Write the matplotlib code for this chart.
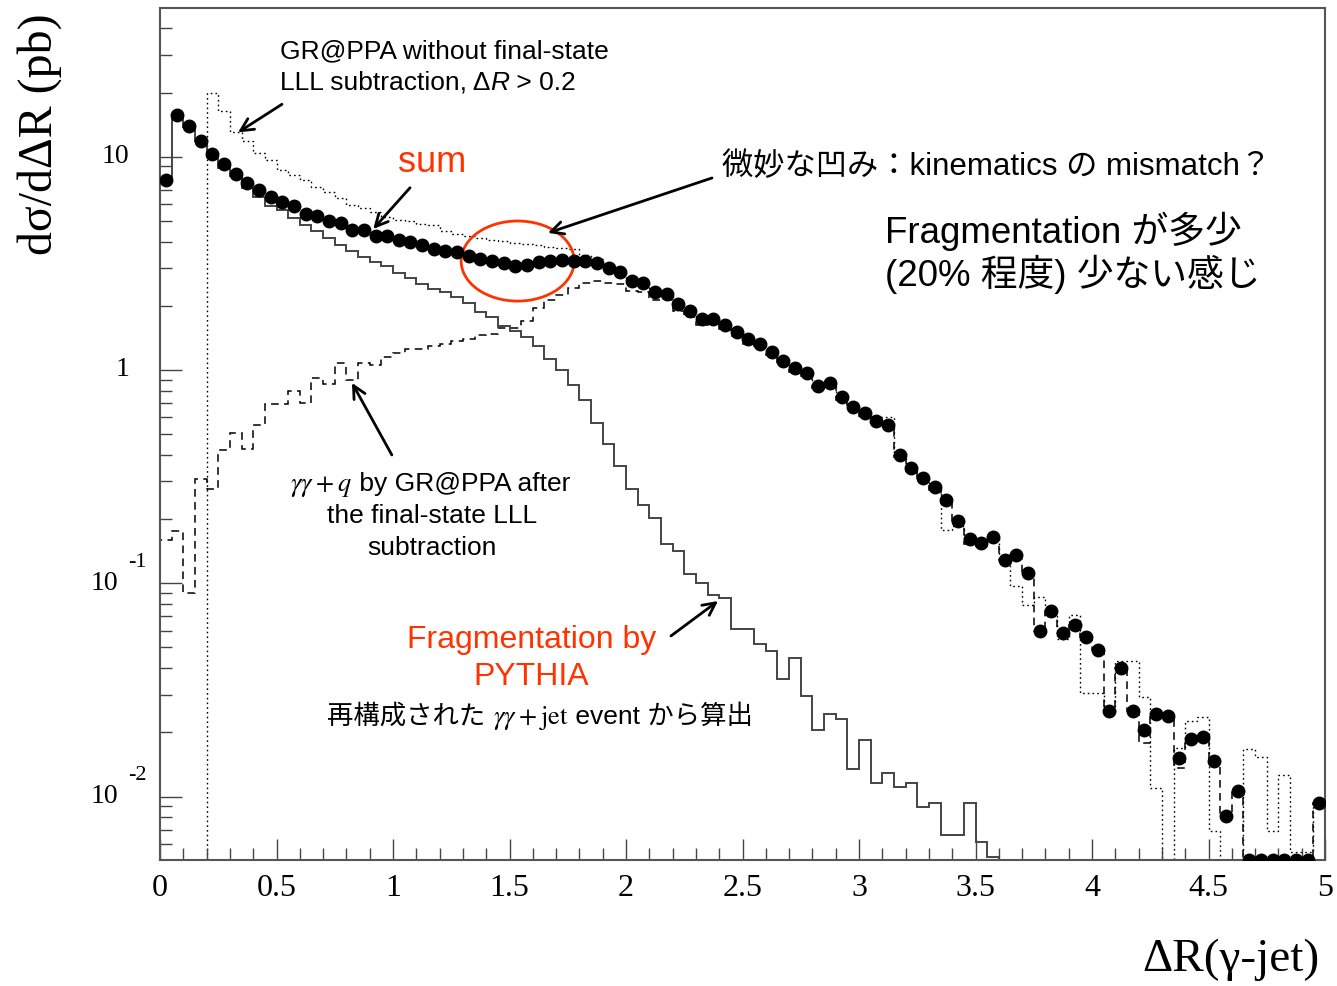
import numpy as np
import matplotlib
matplotlib.use("Agg")
import matplotlib.pyplot as plt
from matplotlib.patches import Ellipse
from matplotlib.ticker import FixedLocator, LogLocator, NullFormatter

plt.rcParams["mathtext.fontset"] = "stix"

SANS = ["Liberation Sans", "Noto Sans CJK JP"]
SERIF = ["Liberation Serif", "DejaVu Serif"]
RED = "#ff3300"

# -*- histogram data, 100 bins of width 0.05 in dR

edges = np.linspace(0.0, 5.0, 101)

# sum (dots)
sum_vals = [
    7.8, 15.7, 14.0, 11.9, 10.3, 9.2, 8.3, 7.5, 7.0, 6.5,
    6.15, 5.9, 5.38, 5.28, 4.99, 4.88, 4.54, 4.54, 4.27, 4.27,
    4.05, 4.0, 3.86, 3.69, 3.63, 3.57, 3.44, 3.32, 3.25, 3.19,
    3.06, 3.09, 3.22, 3.26, 3.28, 3.25, 3.25, 3.17, 3.0, 2.87,
    2.62, 2.55, 2.33, 2.27, 2.03, 1.89, 1.73, 1.73, 1.63, 1.51,
    1.39, 1.32, 1.22, 1.10, 1.02, 0.965, 0.84, 0.867, 0.745, 0.673,
    0.63, 0.577, 0.552, 0.399, 0.348, 0.31, 0.283, 0.245, 0.196, 0.161,
    0.155, 0.165, 0.129, 0.135, 0.112, 0.0595, 0.074, 0.0585, 0.0635, 0.056,
    0.0485, 0.0253, 0.040, 0.0253, 0.0206, 0.0243, 0.0238, 0.0151, 0.0187, 0.0190,
    0.0146, 0.0081, 0.0106, 0, 0, 0, 0, 0, 0, 0.0093,
]

# fragmentation by PYTHIA (solid)
frag_vals = [
    7.6, 15.5, 13.8, 11.8, 10.0, 8.85, 8.1, 7.1, 6.5, 5.9,
    5.63, 5.15, 4.79, 4.46, 4.15, 3.86, 3.63, 3.40, 3.22, 3.06,
    2.86, 2.69, 2.53, 2.40, 2.31, 2.21, 2.05, 1.86, 1.78, 1.60,
    1.52, 1.43, 1.29, 1.13, 1.0, 0.85, 0.72, 0.565, 0.45, 0.354,
    0.278, 0.232, 0.203, 0.152, 0.142, 0.111, 0.100, 0.088, 0.085, 0.0613,
    0.0613, 0.0519, 0.0483, 0.0355, 0.0445, 0.0296, 0.0204, 0.0243, 0.0231, 0.0135,
    0.0185, 0.0116, 0.0129, 0.0111, 0.0116, 0.0089, 0.0093, 0.0066, 0.0066, 0.0093,
    0.0061, 0.0052, 0, 0, 0, 0, 0, 0, 0, 0,
    0, 0, 0, 0, 0, 0, 0, 0, 0, 0,
    0, 0, 0, 0, 0, 0, 0, 0, 0, 0,
]

# gamma gamma + q after LLL subtraction (dashed)
direct_vals = [
    0.16, 0.176, 0.09, 0.308, 0.277, 0.42, 0.505, 0.426, 0.552, 0.69,
    0.69, 0.80, 0.698, 0.914, 0.86, 1.075, 0.898, 1.075, 1.055, 1.15,
    1.2, 1.26, 1.26, 1.29, 1.32, 1.36, 1.40, 1.46, 1.47, 1.57,
    1.57, 1.70, 1.95, 2.13, 2.25, 2.42, 2.56, 2.6, 2.56, 2.52,
    2.34, 2.32, 2.13, 2.12, 1.89, 1.78, 1.63, 1.64, 1.55, 1.45,
    1.33, 1.27, 1.17, 1.06, 0.98, 0.935, 0.82, 0.84, 0.72, 0.66,
    0.61, 0.565, 0.54, 0.39, 0.336, 0.30, 0.274, 0.238, 0.19, 0.152,
    0.149, 0.16, 0.129, 0.135, 0.112, 0.0595, 0.074, 0.0585, 0.0635, 0.056,
    0.0485, 0.0253, 0.040, 0.0253, 0.0178, 0.0243, 0.0238, 0.0136, 0.0187, 0.0190,
    0.0146, 0.0081, 0.0106, 0, 0, 0, 0, 0, 0, 0.0093,
]

# GR@PPA without final-state LLL subtraction, dR > 0.2 (dotted)
nosub_vals = [
    0, 0, 0, 0, 20.0, 16.3, 13.1, 11.8, 10.4, 9.6,
    8.7, 8.2, 7.8, 7.2, 6.85, 6.37, 5.95, 5.74, 5.53, 5.24,
    5.06, 4.97, 4.84, 4.79, 4.46, 4.34, 4.25, 4.14, 4.08, 4.02,
    3.96, 3.9, 3.84, 3.78, 3.73, 3.7, 3.46, 3.3, 3.1, 2.9,
    2.6, 2.5, 2.3, 2.25, 2.0, 1.85, 1.75, 1.7, 1.6, 1.5,
    1.4, 1.3, 1.2, 1.08, 1.0, 0.95, 0.85, 0.86, 0.74, 0.67,
    0.6, 0.6, 0.6, 0.407, 0.35, 0.31, 0.28, 0.177, 0.186, 0.16,
    0.155, 0.165, 0.129, 0.097, 0.079, 0.086, 0.07, 0.055, 0.071, 0.0307,
    0.0307, 0.025, 0.043, 0.043, 0.0294, 0.011, 0, 0.0169, 0.0225, 0.0236,
    0.0069, 0, 0, 0.0167, 0.0154, 0.0069, 0.0126, 0.0055, 0.0055, 0.0093,
]

x_ticks = [0, 0.5, 1, 1.5, 2, 2.5, 3, 3.5, 4, 4.5, 5]
x_ticklabels = ["0", "0.5", "1", "1.5", "2", "2.5", "3", "3.5", "4", "4.5", "5"]
YMIN, YMAX = 0.00504, 49.8

# -*- figure

fig = plt.figure(figsize=(13.37, 9.86), dpi=100)
ax = fig.add_axes([160 / 1337, 126 / 986, 1165 / 1337, 852 / 986])
ax.set_yscale("log")
ax.set_xlim(0, 5)
ax.set_ylim(YMIN, YMAX)

ax.stairs(nosub_vals, edges, color="black", lw=1.0, linestyle=(0, (1.2, 2.2)))
ax.stairs(direct_vals, edges, color="black", lw=1.1, linestyle=(0, (5, 3.5)))
ax.stairs(frag_vals, edges, color="#444444", lw=1.4)

centers = 0.5 * (edges[:-1] + edges[1:])
s = np.array(sum_vals)
ax.plot(centers, np.where(s > 0, s, YMIN), "o", color="black", ms=9, zorder=5)

# -*- axes style

for sp in ax.spines.values():
    sp.set_color("#555555")
    sp.set_linewidth(1.5)

ax.xaxis.set_major_locator(FixedLocator(x_ticks))
ax.xaxis.set_minor_locator(FixedLocator(np.arange(0, 5.01, 0.1)))
ax.set_xticklabels(x_ticklabels, family=SERIF, fontsize=23)
ax.tick_params(axis="x", which="major", direction="in", length=15, width=1, color="#444444", pad=10)
ax.tick_params(axis="x", which="minor", direction="in", length=8.5, width=1, color="#444444")
ax.tick_params(axis="y", which="major", direction="in", length=16, width=1, color="#444444", labelleft=False)
ax.tick_params(axis="y", which="minor", direction="in", length=8.5, width=1, color="#444444")
ax.yaxis.set_minor_locator(LogLocator(base=10, subs=np.arange(2, 10)))
ax.yaxis.set_minor_formatter(NullFormatter())
ax.tick_params(top=False, right=False, which="both")

# y tick labels ROOT style
for val, base, expo in [(10, "10", None), (1, "1", None), (0.1, "10", "-1"), (0.01, "10", "-2")]:
    dx = -22 if expo is None else -30
    ax.annotate(base, xy=(0, val), xycoords=("axes fraction", "data"), xytext=(dx, 0),
                textcoords="offset points", ha="right", va="center", family=SERIF, fontsize=20,
                annotation_clip=False)
    if expo:
        ax.annotate(expo, xy=(0, val), xycoords=("axes fraction", "data"), xytext=(-23, 15),
                    textcoords="offset points", ha="left", va="center", family=SERIF, fontsize=16,
                    annotation_clip=False)

fig.text(40 / 1337, 1 - 13 / 986, "dσ/dΔR (pb)", rotation=90, ha="center", va="top",
         family=SERIF, fontsize=34.5)
fig.text(1320 / 1337, 1 - 960 / 986, "ΔR(γ-jet)", ha="right", va="center",
         family=SERIF, fontsize=34)


# -*- annotations

def chain(parts, x0, y, size, color="black"):
    prev = None
    for txt, fam, style in parts:
        kw = dict(ha="left", va="baseline", family=fam, style=style, fontsize=size, color=color)
        if prev is None:
            prev = ax.text(x0, y, txt, transform=ax.transAxes, **kw)
        else:
            prev = ax.annotate(txt, xy=(1, y), xycoords=(prev, "axes fraction"), **kw)
    return prev


ax.text(0.103, 0.9413, "GR@PPA without final-state", transform=ax.transAxes,
        family=SANS, fontsize=19, va="baseline")
chain([("LLL subtraction, Δ", SANS, "normal"), ("R", SANS, "italic"), (" > 0.2", SANS, "normal")],
      0.103, 0.9038, 19)

ax.text(0.2335, 0.8075, "sum", transform=ax.transAxes, family=SANS, fontsize=26,
        color=RED, ha="center", va="baseline")

ax.text(0.482, 0.804, "微妙な凹み：kinematics の mismatch？", transform=ax.transAxes,
        family=SANS, fontsize=22.5, va="baseline")
ax.text(0.622, 0.7242, "Fragmentation が多少", transform=ax.transAxes,
        family=SANS, fontsize=26.5, va="baseline")
ax.text(0.622, 0.6737, "(20% 程度) 少ない感じ", transform=ax.transAxes,
        family=SANS, fontsize=26.5, va="baseline")

chain([(r"$\gamma\gamma + q$", SANS, "normal"), (" by GR@PPA after", SANS, "normal")],
      0.1116, 0.4331, 19)
ax.text(0.2335, 0.3955, "the final-state LLL", transform=ax.transAxes,
        family=SANS, fontsize=19, ha="center", va="baseline")
ax.text(0.2335, 0.358, "subtraction", transform=ax.transAxes,
        family=SANS, fontsize=19, ha="center", va="baseline")

ax.text(0.319, 0.2488, "Fragmentation by", transform=ax.transAxes,
        family=SANS, fontsize=23, color=RED, ha="center", va="baseline")
ax.text(0.319, 0.2054, "PYTHIA", transform=ax.transAxes,
        family=SANS, fontsize=23, color=RED, ha="center", va="baseline")

chain([("再構成された ", SANS, "normal"), (r"$\gamma\gamma + \mathrm{jet}$", SANS, "normal"),
       (" event から算出", SANS, "normal")], 0.1433, 0.1596, 19)

ax.add_patch(Ellipse((0.307, 0.703), 0.097, 0.094, transform=ax.transAxes,
                     fill=False, edgecolor=RED, lw=2))

arrows = [
    ((0.067, 0.854), (0.1047, 0.887)),
    ((0.183, 0.7406), (0.2146, 0.789)),
    ((0.333, 0.736), (0.4738, 0.8005)),
    ((0.1648, 0.56), (0.199, 0.4754)),
    ((0.479, 0.304), (0.4386, 0.263)),
]
for tip, tail in arrows:
    ax.annotate("", xy=tip, xytext=tail, xycoords="axes fraction", textcoords="axes fraction",
                arrowprops=dict(arrowstyle="->,head_length=0.9,head_width=0.45", lw=2,
                                color="black", shrinkA=0, shrinkB=0))

fig.savefig("out.png", dpi=100)
